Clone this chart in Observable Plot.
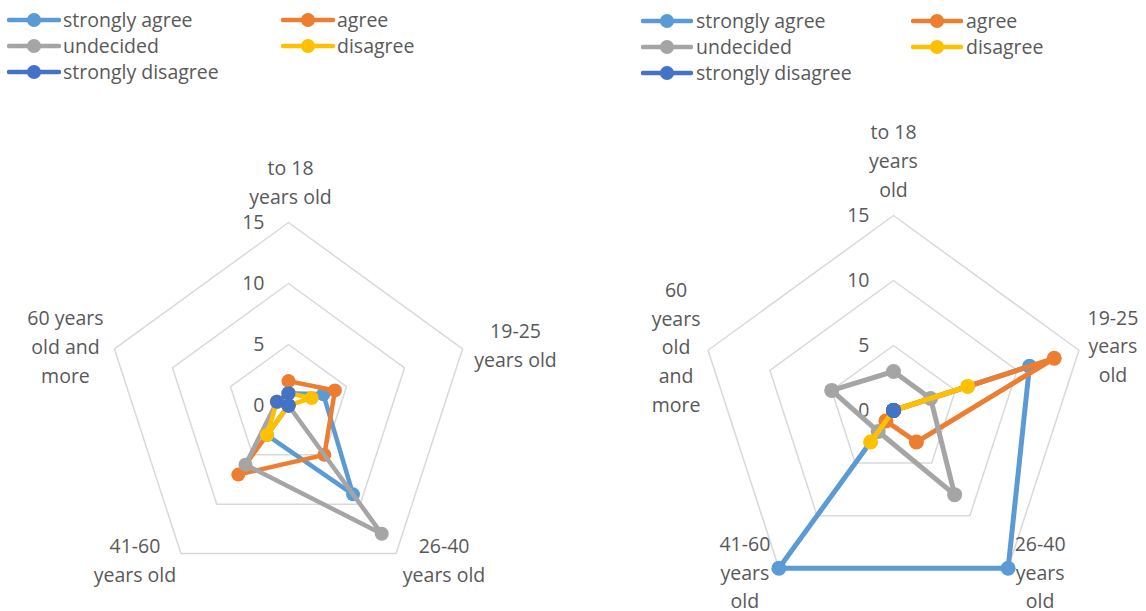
<!DOCTYPE html>
<html><head><meta charset="utf-8">
<script src="https://cdn.jsdelivr.net/npm/d3@7"></script>
<script src="https://cdn.jsdelivr.net/npm/@observablehq/plot@0.6"></script>
<style>
body{margin:0;background:#fff;}
#wrap{position:relative;width:1146px;height:611px;overflow:hidden;font-family:"Open Sans",sans-serif;}
.chart{position:absolute;top:0;}
.leg{position:absolute;white-space:nowrap;font-size:19.5px;color:#595959;line-height:20px;}
.leg svg{position:absolute;left:0;top:0;}
</style></head><body><div id="wrap"></div>
<script>
// ---- data ----
const categories = ["to 18 years old","19-25 years old","26-40 years old","41-60 years old","60 years old and more"];
const seriesNames = ["strongly agree","agree","undecided","disagree","strongly disagree"];
const seriesColors = ["#5B9BD5","#ED7D31","#A5A5A5","#FFC000","#4472C4"];
const tickValues = [0,5,10,15];
const gridValues = [5,10,15];

// left chart values (per category, in order of categories)
const leftStronglyAgree    = [1,3,9,3,0];
const leftAgree            = [2,4,5,7,0];
const leftUndecided        = [0,0,13,6,1];
const leftDisagree         = [1,2,0,3,1];
const leftStronglyDisagree = [1,0,0,0,1];

// right chart values
const rightStronglyAgree    = [0,11,15,15,0];
const rightAgree            = [0,13,3,1,0];
const rightUndecided        = [3,3,8,2,5];
const rightDisagree         = [0,6,0,3,0];
const rightStronglyDisagree = [0,0,0,0,0];

const leftLabels  = ["to 18\nyears old","19-25\nyears old","26-40\nyears old","41-60\nyears old","60 years\nold and\nmore"];
const rightLabels = ["to 18\nyears\nold","19-25\nyears\nold","26-40\nyears\nold","41-60\nyears\nold","60\nyears\nold\nand\nmore"];

// ---- drawing ----
const TEXT = "#595959";
const FS = 19.5;
function radar({series, labels, cx, cy, unit, offsets, W, H, lw, mr}) {
  const ang = i => i * 2 * Math.PI / categories.length;
  const px = (v, i) => v * Math.sin(ang(i));
  const py = (v, i) => v * Math.cos(ang(i));
  const grid = gridValues.flatMap(r => d3.range(categories.length + 1).map(i => ({r, x: px(r, i % categories.length), y: py(r, i % categories.length)})));
  const marks = [
    Plot.line(grid, {x: "x", y: "y", z: "r", stroke: "#d9d9d9", strokeWidth: 1.5})
  ];
  marks.push(Plot.text(tickValues, {x: d => 0, y: d => d, text: d => String(d), textAnchor: "end", dx: -24, fill: TEXT, fontSize: FS}));
  series.forEach((vals, s) => {
    const pts = vals.map((v, i) => ({x: px(v, i), y: py(v, i), name: seriesNames[s]}));
    marks.push(Plot.line([...pts, pts[0]], {x: "x", y: "y", stroke: seriesColors[s], strokeWidth: lw, strokeLinejoin: "round", strokeLinecap: "round"}));
    marks.push(Plot.dot(pts, {x: "x", y: "y", r: mr, fill: seriesColors[s], stroke: "none"}));
  });
  labels.forEach((lab, i) => {
    const max = d3.max(gridValues);
    marks.push(Plot.text([lab], {x: d => px(max, i), y: d => py(max, i), text: d => d, dx: offsets[i][0], dy: offsets[i][1],
      lineHeight: 1.48, lineAnchor: "middle", textAnchor: "middle", fill: TEXT, fontSize: FS}));
  });
  return Plot.plot({
    width: W, height: H, margin: 0,
    x: {axis: null, domain: [-cx / unit, (W - cx) / unit], range: [0, W]},
    y: {axis: null, domain: [-(H - cy) / unit, cy / unit], range: [H, 0]},
    style: {fontFamily: "Open Sans, sans-serif", background: "transparent", overflow: "visible"},
    marks
  });
}

const wrap = document.getElementById("wrap");
const left = radar({
  series: [leftStronglyAgree, leftAgree, leftUndecided, leftDisagree, leftStronglyDisagree],
  labels: leftLabels, cx: 288, cy: 405, unit: 183 / 15, W: 573, H: 611, lw: 4.5, mr: 7,
  offsets: [[2, -42], [53, -6], [48, 5], [-46, 5], [-49, -4]]
});
left.classList.add("chart"); left.style.left = "0px";
wrap.appendChild(left);

const right = radar({
  series: [rightStronglyAgree, rightAgree, rightUndecided, rightDisagree, rightStronglyDisagree],
  labels: rightLabels, cx: 320, cy: 410, unit: 195 / 15, W: 573, H: 611, lw: 5, mr: 7.5,
  offsets: [[0, -57], [34, -6], [32, 2], [-34, 2], [-32, -5]]
});
right.classList.add("chart"); right.style.left = "573px";
wrap.appendChild(right);

// legends
function legend(cols, rows, lineW, textGap) {
  seriesNames.forEach((name, i) => {
    const col = i % 2, row = Math.floor(i / 2);
    const div = document.createElement("div");
    div.className = "leg";
    div.style.left = cols[col] + "px";
    div.style.top = (rows[row] - 10) + "px";
    div.style.paddingLeft = (lineW + textGap) + "px";
    div.innerHTML = `<svg width="${lineW}" height="20"><line x1="2" x2="${lineW - 2}" y1="10" y2="10" stroke="${seriesColors[i]}" stroke-width="4.5" stroke-linecap="round"/><circle cx="${lineW / 2}" cy="10" r="7" fill="${seriesColors[i]}"/></svg>${name}`;
    wrap.appendChild(div);
  });
}
legend([7, 281], [20, 46, 72], 54, 2);
legend([641, 911], [21, 47, 73], 52, 3);
</script></body></html>
